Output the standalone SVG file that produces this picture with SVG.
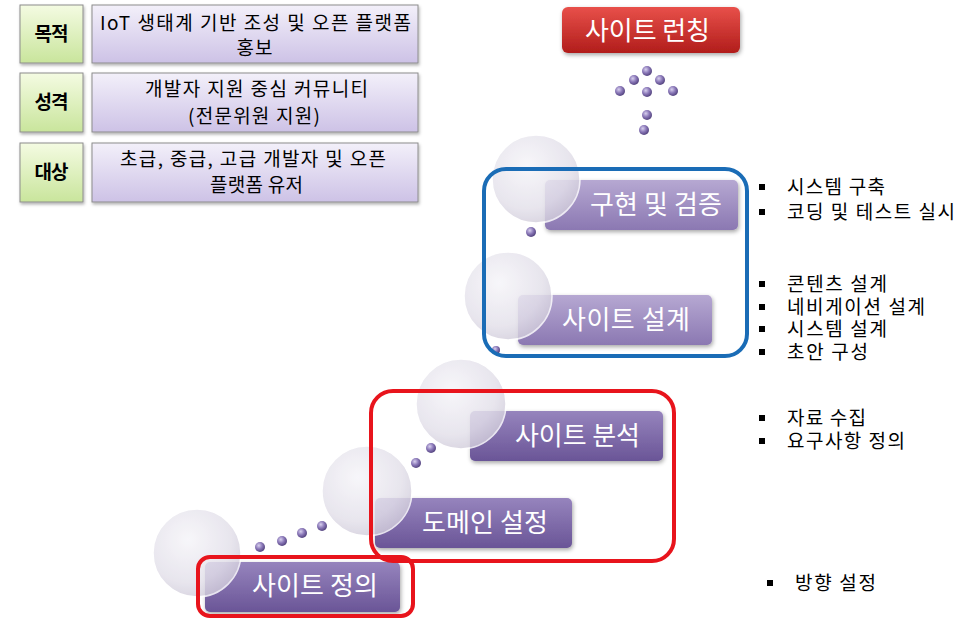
<svg xmlns="http://www.w3.org/2000/svg" width="968" height="636" viewBox="0 0 968 636">
<defs>
<style>
text{font-family:"Noto Sans CJK KR","Noto Sans",sans-serif;}
.lbl{font-size:19px;font-weight:bold;fill:#000;text-anchor:middle;}
.info{font-size:19px;fill:#000;text-anchor:middle;}
.bar-t{font-size:26px;fill:#fff;text-anchor:middle;}
.bul{font-size:19px;fill:#000;}
.gbox{fill:url(#gGreen);stroke:#8c8c8c;stroke-width:1;filter:url(#sh);}
.pbox{fill:url(#gLav);stroke:#8c8c8c;stroke-width:1;filter:url(#sh);}
.barA{fill:url(#gBarA);filter:url(#sh2);}
.barB{fill:url(#gBarB);filter:url(#sh2);}
.circ{fill:url(#gCirc);stroke:#ffffff;stroke-width:1.5;opacity:0.82;}
.dot{fill:url(#gDot);}
.sq{fill:#000;}
</style>
<linearGradient id="gGreen" x1="0" y1="0" x2="0" y2="1">
<stop offset="0" stop-color="#f4fbe2"/><stop offset="1" stop-color="#c9e59c"/>
</linearGradient>
<linearGradient id="gLav" x1="0" y1="0" x2="0" y2="1">
<stop offset="0" stop-color="#f3f0fa"/><stop offset="1" stop-color="#cdc2e6"/>
</linearGradient>
<linearGradient id="gBarA" x1="0" y1="0" x2="0" y2="1">
<stop offset="0" stop-color="#b6a8d2"/><stop offset="1" stop-color="#8b78b2"/>
</linearGradient>
<linearGradient id="gBarB" x1="0" y1="0" x2="0" y2="1">
<stop offset="0" stop-color="#9684bd"/><stop offset="1" stop-color="#6a5597"/>
</linearGradient>
<linearGradient id="gRed" x1="0" y1="0" x2="0" y2="1">
<stop offset="0" stop-color="#e8504a"/><stop offset="1" stop-color="#b11d1b"/>
</linearGradient>
<radialGradient id="gCirc" cx="0.4" cy="0.35" r="0.7">
<stop offset="0" stop-color="#f6f5f9"/><stop offset="0.7" stop-color="#e3e0ea"/><stop offset="1" stop-color="#cfcad9"/>
</radialGradient>
<radialGradient id="gDot" cx="0.38" cy="0.35" r="0.7">
<stop offset="0" stop-color="#d8d0ee"/><stop offset="0.5" stop-color="#8a78b8"/><stop offset="1" stop-color="#4d3d78"/>
</radialGradient>
<filter id="sh" x="-10%" y="-10%" width="120%" height="130%">
<feDropShadow dx="1" dy="2" stdDeviation="1.5" flood-color="#000" flood-opacity="0.3"/>
</filter>
<filter id="sh2" x="-10%" y="-10%" width="120%" height="140%">
<feDropShadow dx="1" dy="2" stdDeviation="2" flood-color="#000" flood-opacity="0.35"/>
</filter>
</defs>
<rect width="968" height="636" fill="#ffffff"/>

<g id="table">
<g id="row-purpose">
<rect class="gbox" x="20" y="5" width="63" height="58"/>
<text class="lbl" x="51.5" y="41" textLength="34" lengthAdjust="spacing">목적</text>
<rect class="pbox" x="92" y="5" width="326" height="58"/>
<text class="info" x="255.5" y="30" textLength="311" lengthAdjust="spacing">IoT 생태계 기반 조성 및 오픈 플랫폼</text>
<text class="info" x="254.5" y="55" textLength="36" lengthAdjust="spacing">홍보</text>
</g>
<g id="row-character">
<rect class="gbox" x="20" y="73" width="63" height="59"/>
<text class="lbl" x="51.5" y="109" textLength="34" lengthAdjust="spacing">성격</text>
<rect class="pbox" x="92" y="73" width="326" height="59"/>
<text class="info" x="256.5" y="96" textLength="223" lengthAdjust="spacing">개발자 지원 중심 커뮤니티</text>
<text class="info" x="254" y="123" textLength="132" lengthAdjust="spacing">(전문위원 지원)</text>
</g>
<g id="row-target">
<rect class="gbox" x="20" y="143" width="63" height="59"/>
<text class="lbl" x="51.5" y="179" textLength="34" lengthAdjust="spacing">대상</text>
<rect class="pbox" x="92" y="143" width="326" height="59"/>
<text class="info" x="253" y="166" textLength="266" lengthAdjust="spacing">초급, 중급, 고급 개발자 및 오픈</text>
<text class="info" x="256.5" y="192" textLength="93" lengthAdjust="spacing">플랫폼 유저</text>
</g>
</g>

<g id="launch">
<rect x="562" y="7" width="178" height="46" rx="6" fill="url(#gRed)" filter="url(#sh2)"/>
<text x="647.5" y="40" font-size="26" fill="#fff" text-anchor="middle" textLength="125" lengthAdjust="spacing">사이트 런칭</text>
</g>

<g id="connectors">
<circle class="dot" cx="647" cy="71" r="5"/>
<circle class="dot" cx="634" cy="80" r="5"/>
<circle class="dot" cx="660" cy="80" r="5"/>
<circle class="dot" cx="620" cy="91" r="5"/>
<circle class="dot" cx="647" cy="92" r="5"/>
<circle class="dot" cx="673" cy="91" r="5"/>
<circle class="dot" cx="647" cy="115" r="5"/>
<circle class="dot" cx="644" cy="130" r="5"/>
<circle class="dot" cx="531" cy="232" r="5"/>
<circle class="dot" cx="496" cy="350" r="4"/>
<circle class="dot" cx="431" cy="448" r="5"/>
<circle class="dot" cx="416" cy="463" r="5"/>
<circle class="dot" cx="322" cy="526" r="5"/>
<circle class="dot" cx="302" cy="533" r="5"/>
<circle class="dot" cx="282" cy="541" r="5"/>
<circle class="dot" cx="260" cy="547" r="5"/>
</g>

<g id="step-implement">
<rect class="barA" x="545" y="180" width="193" height="50" rx="5"/>
<circle class="circ" cx="536" cy="179" r="44"/>
<text class="bar-t" x="656" y="214" textLength="132" lengthAdjust="spacing">구현 및 검증</text>
</g>
<g id="step-design">
<rect class="barA" x="518" y="295" width="194" height="50" rx="5"/>
<circle class="circ" cx="508" cy="296" r="44"/>
<text class="bar-t" x="626" y="329" textLength="128" lengthAdjust="spacing">사이트 설계</text>
</g>
<g id="step-analysis">
<rect class="barB" x="470" y="411" width="193" height="50" rx="5"/>
<circle class="circ" cx="461" cy="404" r="45"/>
<text class="bar-t" x="577.5" y="445" textLength="125" lengthAdjust="spacing">사이트 분석</text>
</g>
<g id="step-domain">
<rect class="barB" x="375" y="498" width="197" height="50" rx="5"/>
<circle class="circ" cx="367" cy="491" r="45"/>
<text class="bar-t" x="485" y="532" textLength="126" lengthAdjust="spacing">도메인 설정</text>
</g>
<g id="step-define">
<rect class="barB" x="205" y="562" width="195" height="50" rx="5"/>
<circle class="circ" cx="197" cy="553" r="44"/>
<text class="bar-t" x="315" y="595" textLength="126" lengthAdjust="spacing">사이트 정의</text>
</g>

<g id="frames" fill="none">
<rect x="484" y="169" width="263" height="187" rx="22" stroke="#1a6cb6" stroke-width="4"/>
<rect x="371" y="391" width="303" height="170" rx="22" stroke="#e8141c" stroke-width="4"/>
<rect x="198" y="557" width="215" height="59" rx="12" stroke="#e8141c" stroke-width="4"/>
</g>

<g id="notes">
<rect class="sq" x="759" y="184" width="6" height="6"/>
<text class="bul" x="787" y="194" textLength="98" lengthAdjust="spacing">시스템 구축</text>
<rect class="sq" x="759" y="209" width="6" height="6"/>
<text class="bul" x="787" y="219" textLength="168" lengthAdjust="spacing">코딩 및 테스트 실시</text>
<rect class="sq" x="759" y="281" width="6" height="6"/>
<text class="bul" x="787" y="291" textLength="100" lengthAdjust="spacing">콘텐츠 설계</text>
<rect class="sq" x="759" y="304" width="6" height="6"/>
<text class="bul" x="787" y="314" textLength="138" lengthAdjust="spacing">네비게이션 설계</text>
<rect class="sq" x="759" y="326" width="6" height="6"/>
<text class="bul" x="787" y="336" textLength="100" lengthAdjust="spacing">시스템 설계</text>
<rect class="sq" x="759" y="349" width="6" height="6"/>
<text class="bul" x="787" y="359" textLength="81" lengthAdjust="spacing">초안 구성</text>
<rect class="sq" x="759" y="415" width="6" height="6"/>
<text class="bul" x="787" y="425" textLength="79" lengthAdjust="spacing">자료 수집</text>
<rect class="sq" x="759" y="438" width="6" height="6"/>
<text class="bul" x="787" y="448" textLength="118" lengthAdjust="spacing">요구사항 정의</text>
<rect class="sq" x="767" y="580" width="6" height="6"/>
<text class="bul" x="795" y="590" textLength="81" lengthAdjust="spacing">방향 설정</text>
</g>
</svg>
